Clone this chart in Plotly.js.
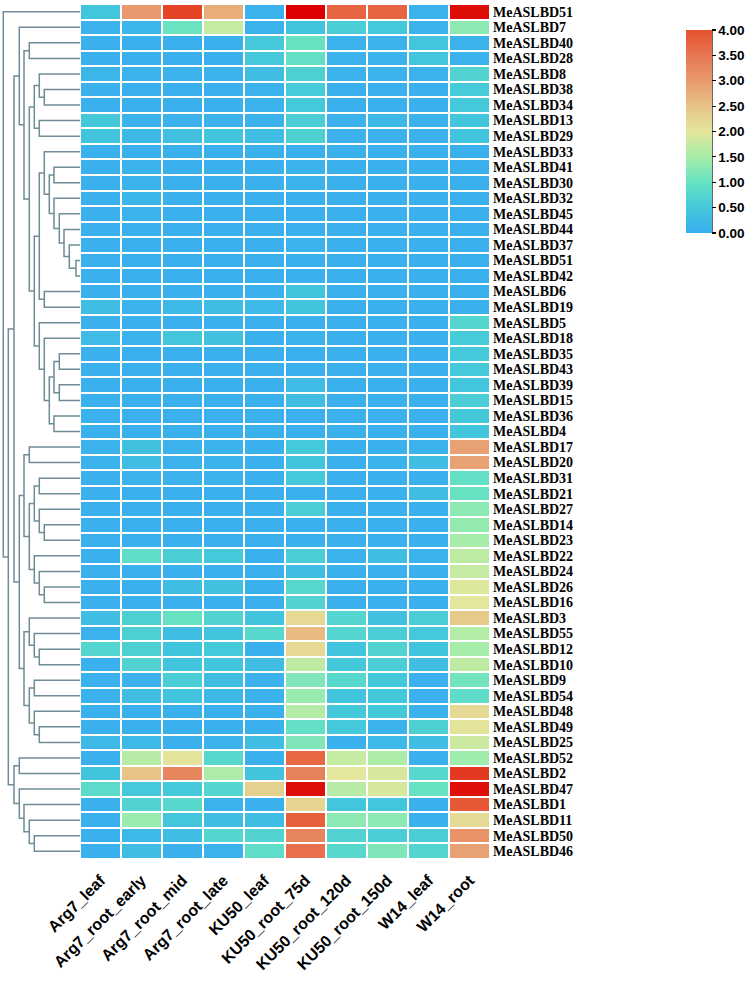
<!DOCTYPE html>
<html><head><meta charset="utf-8">
<script src="https://cdn.plot.ly/plotly-3.0.1.min.js"></script>
<style>html,body{margin:0;padding:0;background:#fff}</style>
</head><body><div id="chart" style="width:750px;height:984px"></div>
<script>
const samples = ["Arg7_leaf","Arg7_root_early","Arg7_root_mid","Arg7_root_late","KU50_leaf","KU50_root_75d","KU50_root_120d","KU50_root_150d","W14_leaf","W14_root"];
const genes = ["MeASLBD51","MeASLBD7","MeASLBD40","MeASLBD28","MeASLBD8","MeASLBD38","MeASLBD34","MeASLBD13","MeASLBD29","MeASLBD33",
"MeASLBD41","MeASLBD30","MeASLBD32","MeASLBD45","MeASLBD44","MeASLBD37","MeASLBD51","MeASLBD42","MeASLBD6","MeASLBD19",
"MeASLBD5","MeASLBD18","MeASLBD35","MeASLBD43","MeASLBD39","MeASLBD15","MeASLBD36","MeASLBD4","MeASLBD17","MeASLBD20",
"MeASLBD31","MeASLBD21","MeASLBD27","MeASLBD14","MeASLBD23","MeASLBD22","MeASLBD24","MeASLBD26","MeASLBD16","MeASLBD3",
"MeASLBD55","MeASLBD12","MeASLBD10","MeASLBD9","MeASLBD54","MeASLBD48","MeASLBD49","MeASLBD25","MeASLBD52","MeASLBD2",
"MeASLBD47","MeASLBD1","MeASLBD11","MeASLBD50","MeASLBD46"];
const values = [
[0.45,3.0,4.15,2.75,0.1,5.0,3.75,3.75,0.1,4.85],
[0.1,0.15,1.05,1.75,0.1,0.4,0.6,0.5,0.1,1.3],
[0.05,0.05,0.05,0.05,0.5,1.0,0.1,0.1,0.45,0.1],
[0.05,0.05,0.05,0.05,0.5,0.95,0.1,0.1,0.45,0.1],
[0.15,0.1,0.1,0.1,0.3,0.65,0.1,0.1,0.1,0.7],
[0.05,0.05,0.05,0.05,0.1,0.55,0.05,0.05,0.05,0.55],
[0.05,0.05,0.05,0.05,0.1,0.5,0.05,0.05,0.05,0.5],
[0.5,0.1,0.1,0.1,0.1,0.6,0.1,0.2,0.1,0.45],
[0.4,0.2,0.35,0.45,0.3,0.65,0.1,0.1,0.1,0.4],
[0.05,0.05,0.05,0.05,0.05,0.05,0.05,0.05,0.05,0.05],
[0.05,0.1,0.05,0.05,0.05,0.1,0.05,0.05,0.05,0.05],
[0.05,0.1,0.05,0.05,0.05,0.1,0.05,0.05,0.05,0.05],
[0.05,0.15,0.05,0.05,0.05,0.05,0.05,0.05,0.05,0.05],
[0.05,0.1,0.05,0.05,0.05,0.05,0.05,0.05,0.05,0.05],
[0.05,0.05,0.05,0.05,0.05,0.05,0.05,0.05,0.05,0.05],
[0.05,0.05,0.05,0.05,0.05,0.1,0.05,0.05,0.05,0.05],
[0.05,0.05,0.05,0.05,0.05,0.05,0.05,0.05,0.05,0.05],
[0.05,0.05,0.05,0.05,0.05,0.05,0.05,0.05,0.05,0.05],
[0.05,0.05,0.05,0.05,0.05,0.4,0.05,0.05,0.05,0.05],
[0.3,0.1,0.2,0.3,0.2,0.4,0.05,0.05,0.05,0.05],
[0.05,0.05,0.05,0.05,0.05,0.05,0.05,0.05,0.05,0.75],
[0.25,0.1,0.45,0.35,0.05,0.1,0.05,0.05,0.05,0.55],
[0.05,0.05,0.05,0.05,0.05,0.05,0.05,0.05,0.05,0.5],
[0.05,0.05,0.05,0.05,0.05,0.05,0.05,0.05,0.05,0.5],
[0.05,0.05,0.05,0.05,0.05,0.25,0.05,0.05,0.05,0.45],
[0.05,0.05,0.05,0.05,0.05,0.3,0.05,0.05,0.05,0.6],
[0.05,0.05,0.05,0.05,0.05,0.05,0.05,0.05,0.05,0.5],
[0.05,0.05,0.05,0.05,0.05,0.05,0.05,0.05,0.05,0.45],
[0.1,0.35,0.1,0.1,0.05,0.5,0.05,0.05,0.1,2.9],
[0.1,0.3,0.1,0.1,0.05,0.4,0.05,0.1,0.3,2.9],
[0.05,0.1,0.1,0.1,0.05,0.5,0.05,0.05,0.05,0.95],
[0.05,0.05,0.05,0.05,0.05,0.05,0.05,0.05,0.3,1.0],
[0.05,0.05,0.05,0.05,0.05,0.6,0.05,0.05,0.05,1.3],
[0.05,0.05,0.05,0.05,0.05,0.05,0.05,0.05,0.05,1.35],
[0.05,0.05,0.05,0.05,0.05,0.05,0.05,0.05,0.05,1.5],
[0.05,0.9,0.6,0.5,0.05,0.6,0.1,0.3,0.1,1.7],
[0.05,0.05,0.05,0.05,0.05,0.3,0.05,0.05,0.05,1.75],
[0.05,0.05,0.3,0.35,0.05,0.8,0.05,0.05,0.05,1.95],
[0.05,0.05,0.05,0.05,0.05,0.7,0.05,0.05,0.05,2.0],
[0.3,0.65,1.0,0.7,0.4,2.2,0.75,0.35,0.6,2.4],
[0.1,0.65,0.3,0.4,0.8,2.6,0.75,0.6,0.5,1.6],
[0.75,0.65,0.4,0.5,0.05,2.2,0.4,0.7,0.4,1.5],
[0.05,0.7,0.4,0.45,0.3,1.7,0.5,0.6,0.3,1.7],
[0.05,0.1,0.6,0.3,0.1,1.2,0.8,0.5,0.05,1.1],
[0.1,0.3,0.4,0.2,0.1,1.4,0.4,0.5,0.05,0.9],
[0.05,0.05,0.05,0.05,0.05,1.6,0.5,0.5,0.1,2.2],
[0.05,0.05,0.05,0.05,0.05,0.95,0.5,0.1,0.65,2.05],
[0.2,0.2,0.05,0.1,0.3,1.2,0.05,0.2,0.3,1.8],
[0.05,1.65,2.05,0.8,0.05,3.7,1.75,1.55,0.05,1.45],
[0.4,2.5,3.3,1.55,0.4,3.35,2.0,1.9,0.8,4.3],
[0.85,0.5,0.5,0.75,2.3,4.8,1.65,1.9,1.0,4.8],
[0.05,0.7,0.8,0.1,0.05,2.25,0.45,0.45,0.05,3.9],
[0.05,1.4,0.45,0.3,0.3,3.8,1.3,1.3,0.05,2.15],
[0.05,0.2,0.3,0.75,0.7,3.3,0.7,0.6,0.6,3.1],
[0.05,0.3,0.05,0.1,0.9,3.6,0.8,1.2,0.75,2.9]
];
const colorStops = [[0,'#39adef'],[0.5,'#44c8da'],[1,'#66e2c3'],[1.5,'#a6eda9'],[2,'#e3e79b'],[2.5,'#e7c386'],[3,'#e8996d'],[3.5,'#e77752'],[4,'#e6512d'],[5,'#dc0000']];
const colorbarTicks = [0,0.5,1,1.5,2,2.5,3,3.5,4];
// dendrogram: [mergeHeight, left, right]; leaves are row indices
const tree =
[76.7, 0,
 [71.7,
  [66,
   [60.7, 1,
    [56,
     [50.7, 2, 3],
     [50.7,
      [45.7, [40.7, 4, [35.7, 5, 6]], [40.7, 7, 8]],
      [45.7,
       [40.7,
        [35.7, 9, [30.7, [26, 10, 11], [26, 12, [20.7, 13, [16, 14, [10.7, 15, [4, 16, 17]]]]]]],
        [35.7, 18, 19]],
       [40.7, 20, [35.7, 21, [30.7, [26, [20.7, 22, 23], [20.7, 24, 25]], [26, 26, 27]]]]]]]],
   [60.7,
    [56, [50.7, 28, 29],
     [50.7,
      [45.7, [40.7, 30, 31], [40.7, 32, [35.7, 33, 34]]],
      [45.7, 35, [40.7, 36, [35.7, 37, 38]]]]],
    [56,
     [50.7, 39, [45.7, 40, [40.7, 41, 42]]],
     [50.7, [45.7, 43, 44], [45.7, 45, [40.7, 46, 47]]]]]],
  [66,
   [60.7, 48, 49],
   [60.7, 50, [56, 51, [50.7, 52, [45.7, 53, 54]]]]]]];

const zMax = colorStops[colorStops.length-1][0];
const heatScale = colorStops.map(s => [s[0]/zMax, s[1]]);
const cbMax = colorbarTicks[colorbarTicks.length-1];
const cbScale = colorStops.filter(s => s[0] <= cbMax).map(s => [s[0]/cbMax, s[1]]);

const dx = [], dy = [];
function walk(node){
  if (typeof node === 'number') return {y: node, h: 0};
  const A = walk(node[1]), B = walk(node[2]), h = node[0];
  dx.push(A.h, h, h, B.h, null);
  dy.push(A.y, A.y, B.y, B.y, null);
  return {y: (A.y + B.y)/2, h: h};
}
walk(tree);

const W = 750, H = 984;
const heatLeft = 80, heatRight = 490, heatTop = 4, heatBottom = 859;
const cbTop = 30, cbBottom = 233, cbLeft = 686, cbThick = 26;
const rowIdx = genes.map((g,i)=>i);
const colIdx = samples.map((s,i)=>i);

const traces = [
  {type:'heatmap', z: values, x: colIdx, y: rowIdx, zmin:0, zmax:zMax, colorscale: heatScale,
   showscale:false, xgap:2, ygap:2, hoverinfo:'skip', xaxis:'x', yaxis:'y'},
  {type:'scatter', mode:'lines', x: dx, y: dy, xaxis:'x2', yaxis:'y',
   line:{color:'#6f8c96', width:1.5}, hoverinfo:'skip', showlegend:false},
  {type:'scatter', mode:'markers', x:[null], y:[null], xaxis:'x', yaxis:'y', showlegend:false, hoverinfo:'skip',
   marker:{color:[0], cmin:0, cmax:cbMax, colorscale: cbScale, showscale:true,
     colorbar:{x:cbLeft/W, xanchor:'left', y:1-cbTop/H, yanchor:'top', len:cbBottom-cbTop, lenmode:'pixels',
       thickness:cbThick, thicknessmode:'pixels', outlinewidth:0, xpad:0, ypad:0,
       ticks:'outside', ticklen:4, tickwidth:1.2, tickcolor:'#000',
       tickvals: colorbarTicks, tickformat:'.2f',
       tickfont:{family:'Liberation Sans, Arial, sans-serif', size:13.5, weight:'bold', color:'#000'}}}}
];

const layout = {
  width: W, height: H, margin:{l:0,r:0,t:0,b:0}, paper_bgcolor:'#fff', plot_bgcolor:'#fff',
  showlegend:false,
  xaxis:{domain:[heatLeft/W, heatRight/W], range:[-0.5, samples.length-0.5], tickvals: colIdx, ticktext: samples,
    tickangle:-45, ticks:'', showgrid:false, zeroline:false, showline:false, ticklabelstandoff:8,
    tickfont:{family:'Liberation Sans, Arial, sans-serif', size:16, weight:'bold', color:'#000'}},
  yaxis:{domain:[1-heatBottom/H, 1-heatTop/H], range:[genes.length-0.5, -0.5], tickvals: rowIdx, ticktext: genes,
    side:'right', ticks:'', showgrid:false, zeroline:false, showline:false, ticklabelstandoff:2,
    tickfont:{family:'Liberation Serif, Times New Roman, serif', size:14, weight:'bold', color:'#000'}},
  xaxis2:{domain:[0, heatLeft/W], range:[heatLeft, 0], anchor:'y', showgrid:false, zeroline:false,
    showticklabels:false, ticks:'', showline:false},
  shapes:[{type:'line', xref:'paper', yref:'paper', x0:(cbLeft+cbThick)/W, x1:(cbLeft+cbThick)/W, y0:1-cbTop/H, y1:1-cbBottom/H,
    line:{color:'#000', width:1.2}}]
};
Plotly.newPlot('chart', traces, layout, {displayModeBar:false, staticPlot:true});
</script></body></html>
